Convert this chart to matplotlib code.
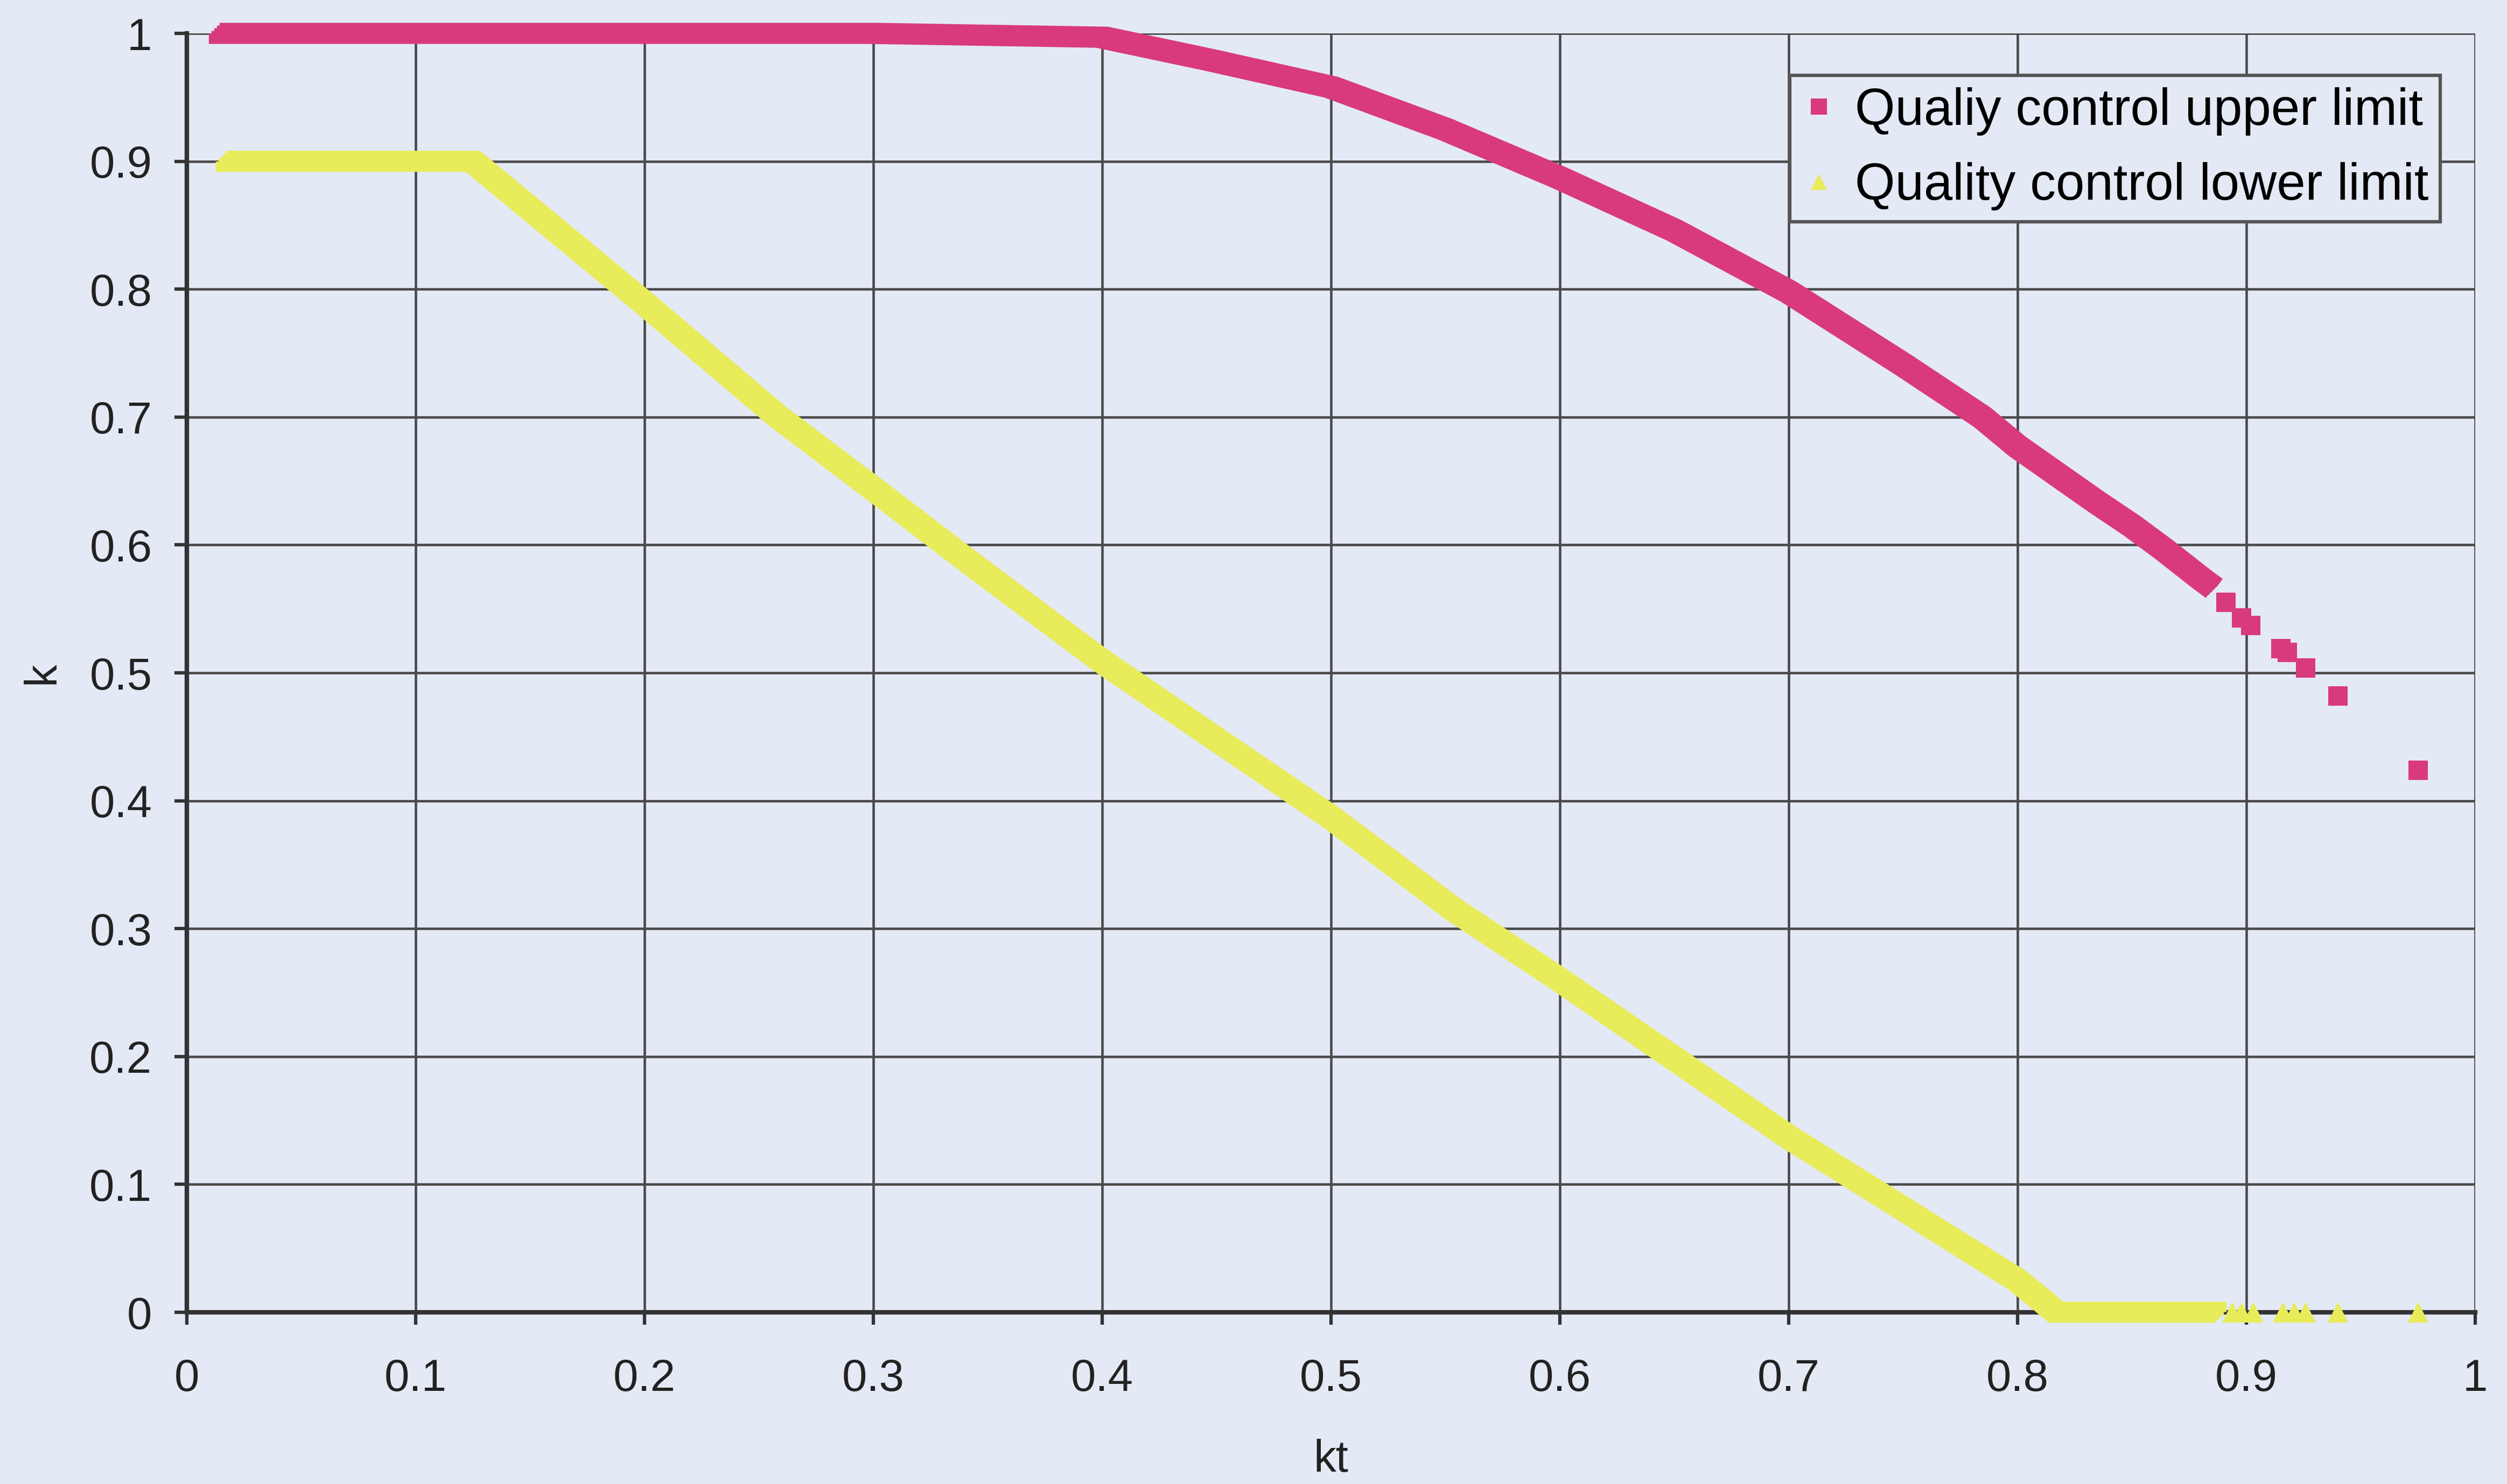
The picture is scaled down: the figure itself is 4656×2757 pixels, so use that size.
import matplotlib
matplotlib.use("Agg")
import matplotlib.pyplot as plt
from matplotlib.lines import Line2D
from matplotlib.transforms import offset_copy

plt.rcParams['font.family'] = ['Liberation Sans', 'DejaVu Sans']

# values
kt_upper = [0.012, 0.10, 0.20, 0.30, 0.40, 0.4476, 0.50, 0.55, 0.60, 0.65,
            0.70, 0.75, 0.7845, 0.80, 0.835, 0.85, 0.8636, 0.8807, 0.886]
k_upper = [1.0, 1.0, 1.0, 1.0, 0.997, 0.979, 0.958, 0.925, 0.887, 0.846,
           0.798, 0.741, 0.70, 0.677, 0.633, 0.615, 0.597, 0.573, 0.566]
kt_upper_tail = [0.891, 0.898, 0.902, 0.915, 0.918, 0.926, 0.940, 0.975]
k_upper_tail = [0.555, 0.543, 0.537, 0.519, 0.516, 0.504, 0.482, 0.424]

kt_lower = [0.015, 0.125, 0.20, 0.2586, 0.30, 0.3424, 0.40, 0.50, 0.5536,
            0.60, 0.70, 0.80, 0.817, 0.889]
k_lower = [0.90, 0.90, 0.789, 0.70, 0.644, 0.586, 0.509, 0.387, 0.315,
           0.26, 0.137, 0.025, 0.0, 0.0]
kt_lower_tail = [0.894, 0.898, 0.903, 0.916, 0.921, 0.926, 0.940, 0.975]
k_lower_tail = [0, 0, 0, 0, 0, 0, 0, 0]

upper_name = "Qualiy control upper limit"
lower_name = "Quality control lower limit"

bg = "#E3E9F5"
pink = "#D93A7B"
yellow = "#E8EC5A"
grid_col = "#4A4A4A"

fig = plt.figure(figsize=(15.52, 9.19), dpi=300, facecolor=bg)
ax = fig.add_axes([0.0745, 0.1157, 0.9128, 0.8618])
ax.set_facecolor(bg)

# dense runs of markers look like a band; sweep it with a few offset copies
def band(x, y, col, z):
    for d in [-2.4, -1.2, 0, 1.2, 2.4]:
        tr = offset_copy(ax.transData, fig=fig, x=d, y=d, units='points')
        ax.plot(x, y, color=col, lw=4.6, transform=tr, zorder=z,
                solid_capstyle='butt', solid_joinstyle='round', clip_on=False)

band(kt_lower, k_lower, yellow, 3)
band(kt_upper, k_upper, pink, 4)
ax.plot(kt_lower_tail, k_lower_tail, '^', color=yellow, ms=9, mew=0, zorder=3,
        clip_on=False)
ax.plot(kt_upper_tail, k_upper_tail, 's', color=pink, ms=8.6, mew=0, zorder=4)

ax.set_xlim(0, 1)
ax.set_ylim(0, 1)
ticks = [0, 0.1, 0.2, 0.3, 0.4, 0.5, 0.6, 0.7, 0.8, 0.9, 1]
labels = ['0', '0.1', '0.2', '0.3', '0.4', '0.5', '0.6', '0.7', '0.8', '0.9', '1']
ax.set_xticks(ticks, labels)
ax.set_yticks(ticks, labels)
ax.grid(True, color=grid_col, lw=1.1, zorder=1)
ax.set_axisbelow(True)
for s in ['top', 'right']:
    ax.spines[s].set_visible(False)
for s in ['left', 'bottom']:
    ax.spines[s].set_color('#333333')
    ax.spines[s].set_linewidth(2.0)
ax.tick_params(axis='both', direction='out', length=5.5, width=1.5,
               color='#333333', labelsize=20, labelcolor='#222222')
ax.tick_params(axis='x', pad=15)
ax.tick_params(axis='y', pad=10)

ax.set_xlabel("kt", fontsize=20, color='#222222')
ax.set_ylabel("k", fontsize=20, color='#222222')
ax.xaxis.set_label_coords(0.5, -0.099)
ax.yaxis.set_label_coords(-0.054, 0.5)

handles = [Line2D([], [], ls='none', marker='s', color=pink, ms=7, mew=0),
           Line2D([], [], ls='none', marker='^', color=yellow, ms=7, mew=0)]
leg = ax.legend(handles, [upper_name, lower_name], loc='upper right',
                bbox_to_anchor=(0.9847, 0.967), borderaxespad=0, fontsize=23,
                fancybox=False, framealpha=1, facecolor=bg, edgecolor='#555555',
                handlelength=0.7, handletextpad=0.35, labelspacing=0.52,
                borderpad=0.22)
leg.get_frame().set_linewidth(1.5)
leg.set_zorder(10)

fig.savefig("out.png", dpi=300, facecolor=bg)
